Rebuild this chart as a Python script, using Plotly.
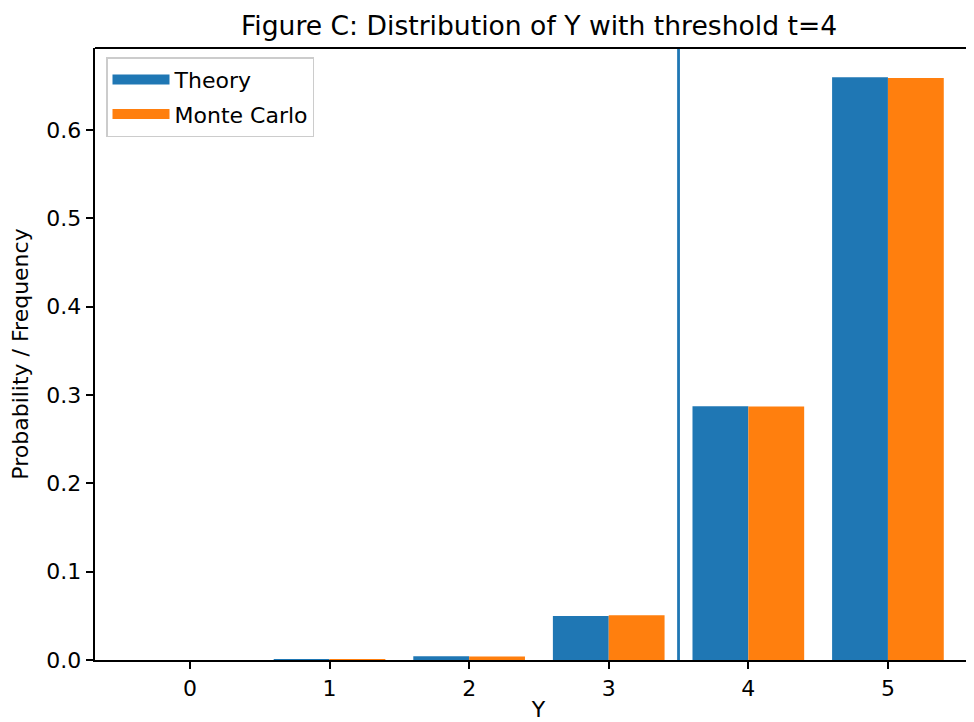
import plotly.graph_objects as go

categories = [0, 1, 2, 3, 4, 5]
theory = [0.0000033, 0.00019, 0.0043, 0.0498, 0.2872, 0.6599]
monte_carlo = [0.0000, 0.00020, 0.0041, 0.0506, 0.2871, 0.6590]
threshold_line = 3.5
y_ticks = [0.0, 0.1, 0.2, 0.3, 0.4, 0.5, 0.6]
series_names = ["Theory", "Monte Carlo"]
series_colors = ["#1f77b4", "#ff7f0e"]

FONT = "DejaVu Sans"
fs = 22

# page body has an 8px margin; compensate so the plot lands where the reference has it.
# The reference is cropped on the right, so the plot area runs past the visible edge.
W, H = 974, 714
L, T, B = 87, 40, 62
px_per_unit = 139.6
x_lo = -0.68
x_hi = x_lo + (W - L) / px_per_unit

fig = go.Figure()
for i, (name, vals, col, off) in enumerate(zip(series_names, [theory, monte_carlo], series_colors, [-0.4, 0.0])):
    fig.add_trace(go.Bar(x=categories, y=vals, name=name, marker_color=col,
                         width=0.4, offset=off, marker_line_width=0, showlegend=False))
    # legend entry drawn as a wide patch (like matplotlib's legend handle)
    fig.add_trace(go.Scatter(x=[None], y=[None], mode="lines", name=name, legendgroup=f"g{i}",
                             line=dict(color=col, width=15), showlegend=True))

fig.add_shape(type="line", x0=threshold_line, x1=threshold_line, y0=0, y1=1,
              xref="x", yref="paper", line=dict(color="#1f77b4", width=2.8))
# top spine
fig.add_shape(type="line", x0=0, x1=1, y0=1, y1=1, xref="paper", yref="paper",
              line=dict(color="black", width=1.8))

fig.update_layout(
    width=W, height=H,
    margin=dict(l=L, r=0, t=T, b=B),
    plot_bgcolor="white", paper_bgcolor="white",
    font=dict(family=FONT, size=fs, color="black"),
    title=dict(text="Figure C: Distribution of Y with threshold t=4", x=531 / W,
               xanchor="center", y=1 - 18 / H, yanchor="middle",
               font=dict(family=FONT, size=26.6, color="black")),
    barmode="overlay",
    showlegend=True,
    legend=dict(x=(106 - 95) / (W - L), y=0.985, xanchor="left", yanchor="top",
                bgcolor="rgba(255,255,255,0.8)", bordercolor="#cccccc", borderwidth=1.5,
                font=dict(family=FONT, size=fs, color="black"),
                itemwidth=57, tracegroupgap=3),
)

fig.update_xaxes(range=[x_lo, x_hi], tickvals=categories, ticktext=[str(c) for c in categories],
                 showgrid=False, zeroline=False, showline=True, linecolor="black", linewidth=1.8,
                 mirror=False, ticks="outside", ticklen=7.5, tickwidth=1.8, tickcolor="black",
                 title=dict(text="Y", standoff=10, font=dict(family=FONT, size=fs)),
                 automargin=False)
fig.update_yaxes(range=[0, 0.6929], tickvals=y_ticks, ticktext=[f"{v:.1f}" for v in y_ticks],
                 showgrid=False, zeroline=False, showline=True, linecolor="black", linewidth=1.8,
                 mirror=False, ticks="outside", ticklen=7.5, tickwidth=1.8, tickcolor="black",
                 title=dict(text="Probability / Frequency", standoff=12, font=dict(family=FONT, size=fs)),
                 automargin=False)

fig.write_html("out.html")
